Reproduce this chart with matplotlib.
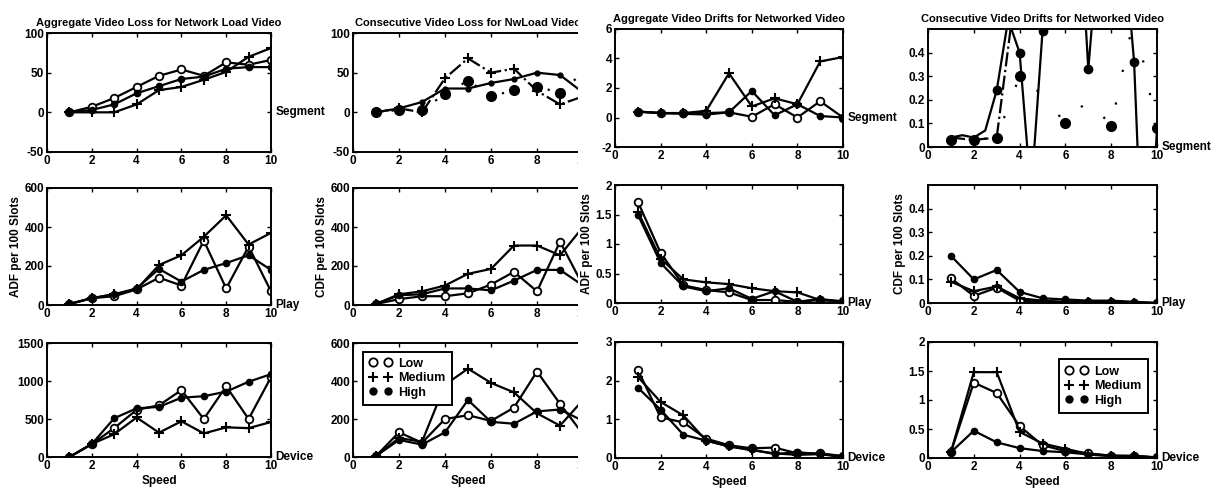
import matplotlib
matplotlib.use("Agg")
import matplotlib.pyplot as plt
import matplotlib.ticker as ticker
from matplotlib.lines import Line2D
from matplotlib.patches import Rectangle

plt.rcParams['font.family'] = ['Liberation Sans', 'DejaVu Sans']
plt.rcParams['font.weight'] = 'bold'
plt.rcParams['font.size'] = 8

speed = [1, 2, 3, 4, 5, 6, 7, 8, 9, 10]

# --- row 1: segment ---
agg_loss_low = [0, 7, 18, 32, 46, 54, 46, 63, 60, 66]
agg_loss_med = [0, 0, 0, 10, 28, 32, 41, 51, 70, 81]
agg_loss_high = [0, 3, 10, 24, 33, 42, 45, 55, 57, 57]

con_loss_low = [0, 5, 13, 30, 30, 37, 42, 50, 47, 25]
con_loss_med = [0, 5, 0, 43, 68, 50, 55, 27, 10, 20]
con_loss_high = [0, 3, 3, 23, 40, 20, 28, 32, 25, 50]

agg_drift_low = [0.4, 0.3, 0.3, 0.3, 0.35, 0.05, 0.9, 0.0, 1.1, 0.0]
agg_drift_med = [0.4, 0.3, 0.3, 0.45, 3.0, 0.75, 1.3, 0.9, 3.8, 4.1]
agg_drift_high = [0.4, 0.3, 0.25, 0.2, 0.35, 1.8, 0.15, 0.9, 0.1, 0.0]

con_drift_x = [1, 1.5, 2, 2.5, 3, 3.5, 4, 4.5, 5, 6, 7, 8, 9, 9.5, 10]
con_drift_med = [0.04, 0.05, 0.04, 0.07, 0.24, 0.54, 0.4, -0.2, 0.49,
                 2.0, 0.33, 1.5, 0.36, -0.84, 0.08]
con_drift_low = [0.04, 0.03, 0.04, 0.8, 1.0, 1.0, 1.0, 1.0, 1.0, 1.0]
con_drift_high = [0.03, 0.03, 0.04, 0.3, 0.22, 0.1, 0.2, 0.09, 0.55, 0.08]

# --- row 2: play ---
adf_play_low = [5, 35, 45, 80, 140, 100, 330, 85, 300, 70]
adf_play_med = [5, 35, 55, 80, 205, 255, 350, 460, 310, 370]
adf_play_high = [5, 35, 55, 85, 185, 120, 180, 215, 255, 180]

cdf_play_low = [5, 30, 45, 45, 60, 105, 170, 70, 325, 100]
cdf_play_med = [5, 55, 70, 100, 160, 185, 305, 305, 255, 400]
cdf_play_high = [5, 50, 55, 85, 85, 75, 125, 180, 180, 100]

adf_net_play_low = [1.72, 0.85, 0.3, 0.22, 0.18, 0.05, 0.05, 0.02, 0.05, 0.03]
adf_net_play_med = [1.55, 0.75, 0.4, 0.35, 0.32, 0.25, 0.2, 0.18, 0.05, 0.03]
adf_net_play_high = [1.5, 0.68, 0.28, 0.2, 0.25, 0.07, 0.2, 0.02, 0.07, 0.02]

cdf_net_play_low = [0.105, 0.03, 0.065, 0.01, 0.005, 0.003, 0.002, 0.002, 0.001, 0.0]
cdf_net_play_med = [0.09, 0.05, 0.07, 0.02, 0.01, 0.005, 0.004, 0.003, 0.002, 0.0]
cdf_net_play_high = [0.2, 0.1, 0.14, 0.047, 0.02, 0.015, 0.01, 0.01, 0.005, 0.0]

# --- row 3: device ---
adf_dev_low = [0, 170, 380, 620, 680, 880, 500, 930, 500, 1050]
adf_dev_med = [0, 170, 300, 520, 320, 470, 310, 390, 380, 460]
adf_dev_high = [0, 170, 510, 640, 660, 780, 800, 860, 990, 1090]

cdf_dev_low = [5, 130, 75, 200, 220, 190, 260, 450, 280, 120]
cdf_dev_med = [5, 100, 80, 380, 465, 390, 340, 230, 165, 300]
cdf_dev_high = [5, 90, 65, 130, 300, 185, 175, 240, 250, 190]

adf_net_dev_low = [2.28, 1.05, 0.92, 0.5, 0.33, 0.25, 0.27, 0.12, 0.12, 0.05]
adf_net_dev_med = [2.1, 1.45, 1.1, 0.45, 0.3, 0.2, 0.12, 0.08, 0.1, 0.02]
adf_net_dev_high = [1.82, 1.25, 0.6, 0.45, 0.3, 0.22, 0.1, 0.15, 0.1, 0.05]

cdf_net_dev_low = [0.1, 1.3, 1.12, 0.55, 0.22, 0.12, 0.08, 0.04, 0.03, 0.01]
cdf_net_dev_med = [0.1, 1.48, 1.48, 0.45, 0.25, 0.16, 0.07, 0.04, 0.04, 0.01]
cdf_net_dev_high = [0.1, 0.47, 0.27, 0.17, 0.12, 0.1, 0.06, 0.03, 0.03, 0.01]

titles = ['Aggregate Video Loss for Network Load Video',
          'Consecutive Video Loss for NwLoad Video',
          'Aggregate Video Drifts for Networked Video',
          'Consecutive Video Drifts for Networked Video']
row_names = ['Segment', 'Play', 'Device']
ylabels = ['ADF per 100 Slots', 'CDF per 100 Slots',
           'ADF per 100 Slots', 'CDF per 100 Slots']

ylims = [[(-50, 100), (-50, 100), (-2, 6), (0, 0.5)],
         [(0, 600), (0, 600), (0, 2), (0, 0.5)],
         [(0, 1500), (0, 600), (0, 3), (0, 2)]]
ytick_sets = [[[-50, 0, 50, 100], [-50, 0, 50, 100], [-2, 0, 2, 4, 6], [0, 0.1, 0.2, 0.3, 0.4]],
              [[0, 200, 400, 600], [0, 200, 400, 600], [0, 0.5, 1, 1.5, 2], [0, 0.1, 0.2, 0.3, 0.4]],
              [[0, 500, 1000, 1500], [0, 200, 400, 600], [0, 1, 2, 3], [0, 0.5, 1, 1.5, 2]]]

low = dict(marker='o', mfc='white', mec='black', ms=5.5, mew=1.3, ls='-')
med = dict(marker='+', mec='black', ms=7, mew=1.5, ls='-')
high = dict(marker='o', mfc='black', mec='black', ms=4.5, ls='-')
sparse_dots = (0, (1, 6))
sparser_dots = (0, (1, 14))

# (x, y, style) for each panel
panels = [
    [[(speed, agg_loss_low, low), (speed, agg_loss_med, med), (speed, agg_loss_high, high)],
     [(speed, con_loss_low, dict(marker='.', ms=7, ls='-')),
      (speed, con_loss_med, dict(marker='+', ms=7, mew=1.5, ls='-.')),
      (speed, con_loss_high, dict(marker='o', mfc='black', ms=7, ls=sparse_dots))],
     [(speed, agg_drift_low, low), (speed, agg_drift_med, med), (speed, agg_drift_high, high)],
     [(con_drift_x, con_drift_med, dict(ls='-', marker='o', mfc='black', ms=6,
                                          markevery=[4, 6, 8, 10, 12])),
      (speed, con_drift_low, dict(ls='-.')),
      (speed, con_drift_high, dict(marker='o', mfc='black', ms=7, ls=sparser_dots,
                                   markevery=[0, 1, 2, 3, 5, 7, 9]))]],
    [[(speed, adf_play_low, low), (speed, adf_play_med, med), (speed, adf_play_high, high)],
     [(speed, cdf_play_low, low), (speed, cdf_play_med, med), (speed, cdf_play_high, high)],
     [(speed, adf_net_play_low, low), (speed, adf_net_play_med, med), (speed, adf_net_play_high, high)],
     [(speed, cdf_net_play_low, low), (speed, cdf_net_play_med, med), (speed, cdf_net_play_high, high)]],
    [[(speed, adf_dev_low, low), (speed, adf_dev_med, med), (speed, adf_dev_high, high)],
     [(speed, cdf_dev_low, low), (speed, cdf_dev_med, med), (speed, cdf_dev_high, high)],
     [(speed, adf_net_dev_low, low), (speed, adf_net_dev_med, med), (speed, adf_net_dev_high, high)],
     [(speed, cdf_net_dev_low, low), (speed, cdf_net_dev_med, med), (speed, cdf_net_dev_high, high)]],
]

W, H = 1211, 491
fig = plt.figure(figsize=(W / 100, H / 100), dpi=100)

col_x = [(47, 271), (353, 583), (615, 843), (928, 1157)]
rows_left = [(33, 152), (188, 305), (343, 457)]
rows_right = [(29, 147), (185, 303), (342, 458)]

axes = [[None] * 4 for _ in range(3)]
for r in range(3):
    for c in range(4):
        x0, x1 = col_x[c]
        top, bot = (rows_left if c < 2 else rows_right)[r]
        ax = fig.add_axes([x0 / W, 1 - bot / H, (x1 - x0) / W, (bot - top) / H])
        ax.set_zorder(0 if c == 1 else 2)
        axes[r][c] = ax
        for x, y, st in panels[r][c]:
            ax.plot(x, y, color='black', lw=1.6, **st)
        ax.set_xlim(0, 10)
        ax.set_ylim(*ylims[r][c])
        ax.set_xticks([0, 2, 4, 6, 8, 10])
        ax.set_yticks(ytick_sets[r][c])
        ax.yaxis.set_major_formatter(ticker.FormatStrFormatter('%g'))
        ax.tick_params(direction='in', length=3, width=1, top=True, right=True,
                       pad=2, labelsize=8.5)
        for sp in ax.spines.values():
            sp.set_linewidth(1.4)
        # the second column's right edge sits under the third column
        if c != 1:
            ax.annotate(row_names[r], xy=(1, 0), xycoords=('axes fraction', 'data'),
                        xytext=(3, 0), textcoords='offset points', va='center',
                        ha='left', fontsize=8.5, annotation_clip=False)
        if r == 0:
            ax.set_title(titles[c], fontsize=8, fontweight='bold', pad=5)
        if r == 1:
            ax.set_ylabel(ylabels[c], fontsize=8.5, fontweight='bold', labelpad=2)
        if r == 2:
            ax.set_xlabel('Speed', fontsize=8.5, fontweight='bold', labelpad=2)

fig.patches.append(Rectangle((578 / W, 0), 37 / W, 1, transform=fig.transFigure,
                             facecolor='white', edgecolor='none', zorder=1))

handles = [Line2D([], [], color='black', ls='none', marker='o', mfc='white', ms=6, mew=1.3),
           Line2D([], [], color='black', ls='none', marker='+', ms=7, mew=1.5),
           Line2D([], [], color='black', ls='none', marker='o', mfc='black', ms=5)]
labels = ['Low', 'Medium', 'High']
for ax, anchor, loc in [(axes[2][1], (0.017, 0.98), 'upper left'),
                        (axes[2][3], (0.987, 0.905), 'upper right')]:
    leg = ax.legend(handles, labels, loc=loc, bbox_to_anchor=anchor, numpoints=2,
                    handlelength=1.8, handletextpad=0.5, borderpad=0.5,
                    labelspacing=0.2, fancybox=False, framealpha=1,
                    edgecolor='black', fontsize=9)
    leg.get_frame().set_linewidth(1.4)

fig.savefig('out.png', dpi=100)
